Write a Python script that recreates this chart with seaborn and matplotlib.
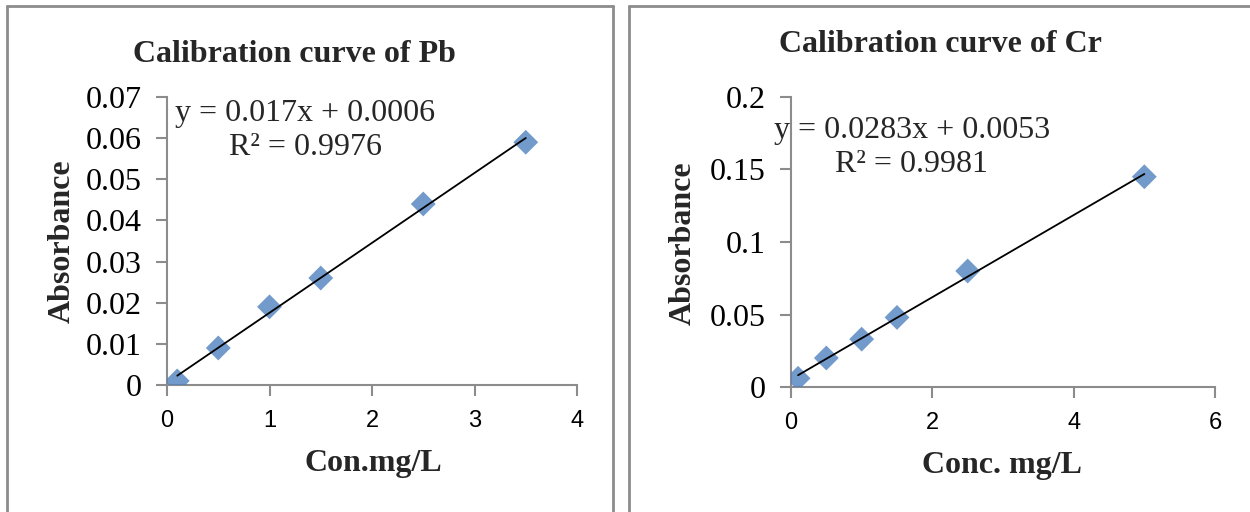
import numpy as np
import pandas as pd
import matplotlib.pyplot as plt
import seaborn as sns
from matplotlib.lines import Line2D

# calibration data
pb_conc = [0.1, 0.5, 1.0, 1.5, 2.5, 3.5]
pb_abs = [0.001, 0.009, 0.019, 0.026, 0.044, 0.059]
cr_conc = [0.1, 0.5, 1.0, 1.5, 2.5, 5.0]
cr_abs = [0.006, 0.020, 0.033, 0.048, 0.080, 0.145]

pb_eq = "y = 0.017x + 0.0006\nR² = 0.9976"
cr_eq = "y = 0.0283x + 0.0053\nR² = 0.9981"

sns.set_theme(style="white")
plt.rcParams['font.family'] = ['Liberation Serif', 'DejaVu Serif']

W, H = 1250, 512
fig = plt.figure(figsize=(W / 100, H / 100), dpi=100)


def px(x, y):
    return x / W, 1 - y / H


def box(l, b, w, h):
    return [l / W, 1 - b / H, w / W, h / H]


# panel borders
border = dict(color='#8c8c8c', lw=2)
for xs, ys in [([7, 7], [6, 520]), ([7, 613], [6, 6]), ([613, 613], [6, 520]),
               ([629, 629], [6, 520]), ([629, 1260], [6, 6])]:
    fig.add_artist(Line2D([x / W for x in xs], [1 - y / H for y in ys], **border))

panels = [
    dict(df=pd.DataFrame({'conc': pb_conc, 'abs': pb_abs}), rect=box(167, 385, 410, 288),
         xlim=(0, 4), xticks=[0, 1, 2, 3, 4], ylim=(0, 0.07),
         yticks=np.arange(0, 0.071, 0.01), ylabels=['0', '0.01', '0.02', '0.03', '0.04', '0.05', '0.06', '0.07'],
         eq=pb_eq, eqpos=(1.35, 0.0618), title='Calibration curve of Pb', tpos=(294, 55),
         xlabel='Con.mg/L', xlpos=(373, 463), ylpos=(62, 241)),
    dict(df=pd.DataFrame({'conc': cr_conc, 'abs': cr_abs}), rect=box(791, 387, 424, 290),
         xlim=(0, 6), xticks=[0, 2, 4, 6], ylim=(0, 0.2),
         yticks=np.arange(0, 0.201, 0.05), ylabels=['0', '0.05', '0.1', '0.15', '0.2'],
         eq=cr_eq, eqpos=(1.71, 0.165), title='Calibration curve of Cr', tpos=(940, 45),
         xlabel='Conc. mg/L', xlpos=(1002, 465), ylpos=(683, 243)),
]

for p in panels:
    ax = fig.add_axes(p['rect'])
    sns.regplot(data=p['df'], x='conc', y='abs', ax=ax, ci=None, marker='D',
                scatter_kws=dict(s=160, color='#4f81bd', edgecolor='none', zorder=3),
                line_kws=dict(color='black', lw=1.3, zorder=4))
    ax.set_xlim(p['xlim'])
    ax.set_ylim(p['ylim'])
    ax.set_xticks(p['xticks'])
    ax.set_xticklabels([str(t) for t in p['xticks']], fontsize=17, family='Liberation Sans')
    ax.set_yticks(p['yticks'])
    ax.set_yticklabels(p['ylabels'], fontsize=23)
    ax.set_xlabel('')
    ax.set_ylabel('')
    ax.spines[['top', 'right']].set_visible(False)
    for s in ['left', 'bottom']:
        ax.spines[s].set_color('#8c8c8c')
        ax.spines[s].set_linewidth(1.5)
    ax.tick_params(axis='both', direction='out', left=True, bottom=True,
                   color='#8c8c8c', length=8, width=1.5)
    ax.tick_params(axis='x', pad=10, labelcolor='black')
    ax.tick_params(axis='y', pad=10, labelcolor='black')
    ax.text(p['eqpos'][0], p['eqpos'][1], p['eq'], ha='center', va='center',
            multialignment='center', fontsize=23, linespacing=1.25, zorder=5)
    fig.text(*px(*p['tpos']), p['title'], ha='center', va='center',
             fontsize=23, fontweight='bold')
    fig.text(*px(*p['xlpos']), p['xlabel'], ha='center', va='center',
             fontsize=23, fontweight='bold')
    fig.text(*px(*p['ylpos']), 'Absorbance', ha='center', va='center',
             fontsize=23, fontweight='bold', rotation=90)

fig.savefig('out.png', dpi=100)
